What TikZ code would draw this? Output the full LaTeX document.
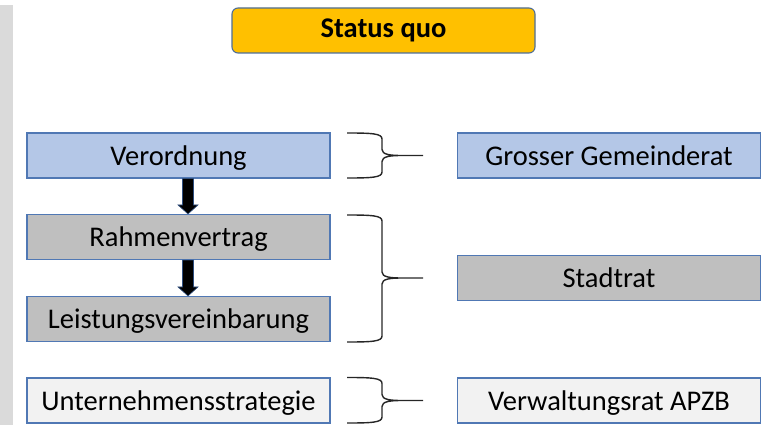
\documentclass[tikz,border=0pt]{standalone}
\usepackage{fontspec}
\setmainfont{Carlito}
\usetikzlibrary{calc}
\definecolor{titlefill}{HTML}{FFC000}
\definecolor{titleline}{HTML}{4F6E96}
\definecolor{bluefill}{HTML}{B4C7E7}
\definecolor{boxline}{HTML}{5078B4}
\definecolor{grayfill}{HTML}{BFBFBF}
\definecolor{lightfill}{HTML}{F2F2F2}
\definecolor{barfill}{HTML}{DADADA}
\definecolor{arrowline}{HTML}{2F4F80}
\tikzset{
  box/.style={draw=boxline, line width=1.1pt, minimum width=303pt, minimum height=45pt, inner sep=0pt, text height=23pt, text depth=4pt, font=\fontsize{28.5}{32}\selectfont, text=black},
  bluebox/.style={box, fill=bluefill},
  graybox/.style={box, fill=grayfill},
  lightbox/.style={box, fill=lightfill},
  titlebox/.style={draw=titleline, line width=1.1pt, fill=titlefill, rounded corners=6pt, minimum width=303pt, minimum height=45pt, inner sep=0pt, text height=21pt, text depth=6pt, font=\fontsize{28.5}{32}\selectfont\bfseries},
  arrowshape/.style={fill=black, draw=arrowline, line width=0.6pt, line join=miter},
  bracestyle/.style={draw=black!85, line width=1.4pt, line join=round}
}
\newcommand{\curlybrace}[3]{% top, bottom, middle y
  \draw[bracestyle] (347,#1) .. controls (372,#1) and (382,#1+0.5) .. (382,#1+6)
    -- (382,#3-6) .. controls (382,#3-1) and (390,#3) .. (402,#3) -- (423,#3)
    (402,#3) .. controls (390,#3) and (382,#3+1) .. (382,#3+6)
    -- (382,#2-6) .. controls (382,#2-0.5) and (372,#2) .. (347,#2);
}
% block arrow from node south (#1) to node north (#2), shifted right by 9.5
\newcommand{\blockarrow}[2]{%
  \path let \p1=($(#1.south)+(9.5,0)$), \p2=($(#2.north)+(9.5,0)$) in
    [arrowshape] (\x1-5.5,\y1) -- (\x1+5.5,\y1) -- (\x1+5.5,\y2+9) -- (\x1+10,\y2+9)
    -- (\x2,\y2) -- (\x1-10,\y2+9) -- (\x1-5.5,\y2+9) -- cycle;
}
\begin{document}
\begin{tikzpicture}[x=1pt,y=-1pt]
\useasboundingbox (0,0) rectangle (763,425);
\fill[barfill] (0,5) rectangle (13,425);
\node[titlebox] (title) at (383.5,30.5) {Status quo};
\node[bluebox] (ver) at (178.5,155.5) {Verordnung};
\node[graybox] (rah) at (178.5,237) {Rahmenvertrag};
\node[graybox] (lei) at (178.5,319) {Leistungsvereinbarung};
\node[lightbox] (unt) at (178.5,400.5) {Unternehmensstrategie};
\node[bluebox] (ggr) at (609,155.5) {Grosser Gemeinderat};
\node[graybox] (str) at (609,278) {Stadtrat};
\node[lightbox] (vra) at (609,400.5) {Verwaltungsrat APZB};
\blockarrow{ver}{rah}
\blockarrow{rah}{lei}
\curlybrace{133}{178}{155.5}
\curlybrace{215}{342}{278}
\curlybrace{377.5}{423}{400.5}
\end{tikzpicture}
\end{document}
